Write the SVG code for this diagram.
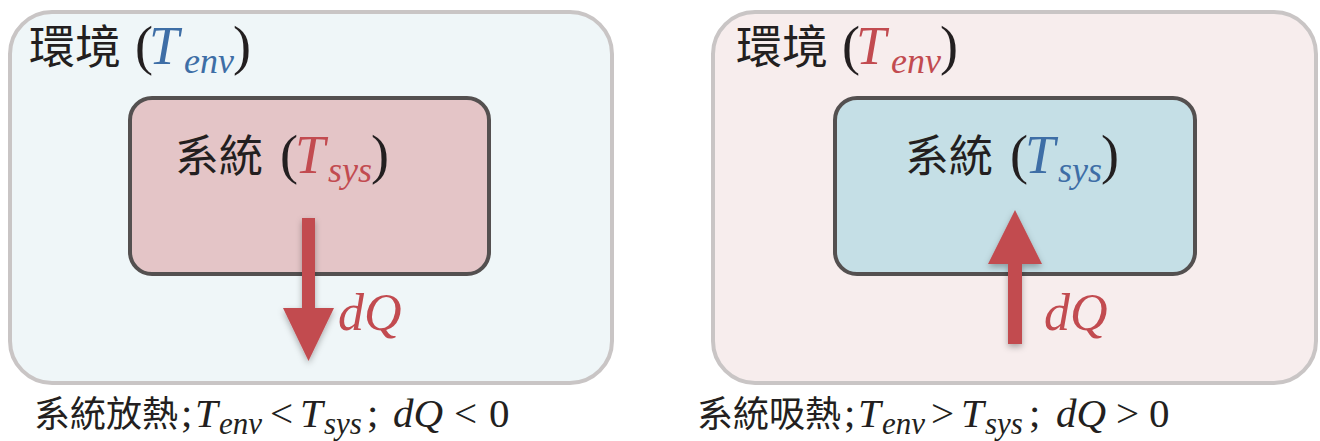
<svg xmlns="http://www.w3.org/2000/svg" width="1320" height="441" viewBox="0 0 1320 441">
<style>
.cjk{font-family:"Noto Sans CJK TC","Noto Sans CJK SC",sans-serif;fill:#231f20}
.lat{font-family:"Liberation Serif","Times New Roman",serif;fill:#231f20}
.it{font-style:italic}
.red{fill:#c24b50}
.blue{fill:#3e6ea6}
.outer{stroke:#c9c5c5;stroke-width:4}
.inner{stroke:#545050;stroke-width:4}
.arrow{fill:#c24b50}
</style>
<defs>
<filter id="sh" x="-50%" y="-20%" width="200%" height="150%">
<feDropShadow dx="0" dy="3" stdDeviation="3" flood-color="#000" flood-opacity="0.3"/>
</filter>
</defs>
<rect width="1320" height="441" fill="#ffffff"/>
<g id="env-left">
<rect class="outer" x="10" y="12" width="602" height="371" rx="42" fill="#eff6f8"/>
<text class="cjk" x="29" y="63" font-size="46">環境</text>
<text class="lat" font-size="54"><tspan x="135" y="64">(</tspan><tspan class="it blue" x="149" y="64">T</tspan><tspan class="it blue" x="184" y="73" font-size="36">env</tspan><tspan x="233" y="64">)</tspan></text>
</g>
<g id="sys-left">
<rect class="inner" x="130" y="98" width="359" height="176" rx="22" fill="#e4c5c7"/>
<text class="cjk" x="175" y="172" font-size="44">系統</text>
<text class="lat" font-size="54"><tspan x="280" y="173">(</tspan><tspan class="it red" x="295" y="173">T</tspan><tspan class="it red" x="328" y="182" font-size="36">sys</tspan><tspan x="371" y="173">)</tspan></text>
</g>
<g id="env-right">
<rect class="outer" x="713" y="12" width="603" height="371" rx="42" fill="#f7eded"/>
<text class="cjk" x="736" y="63" font-size="46">環境</text>
<text class="lat" font-size="54"><tspan x="842" y="64">(</tspan><tspan class="it red" x="856" y="64">T</tspan><tspan class="it red" x="891" y="73" font-size="36">env</tspan><tspan x="940" y="64">)</tspan></text>
</g>
<g id="sys-right">
<rect class="inner" x="835" y="98" width="360" height="176" rx="22" fill="#c5dfe6"/>
<text class="cjk" x="905" y="172" font-size="44">系統</text>
<text class="lat" font-size="54"><tspan x="1010" y="173">(</tspan><tspan class="it blue" x="1025" y="173">T</tspan><tspan class="it blue" x="1058" y="182" font-size="36">sys</tspan><tspan x="1101" y="173">)</tspan></text>
</g>
<g id="connectors">
<g filter="url(#sh)">
<rect class="arrow" x="302" y="218" width="13" height="92"/>
<polygon class="arrow" points="283,308 334,308 308.5,361"/>
</g>
<g filter="url(#sh)">
<rect class="arrow" x="1008" y="262" width="14" height="82"/>
<polygon class="arrow" points="988,264 1042,264 1015,210"/>
</g>
<text class="lat it red" x="338" y="330" font-size="52">dQ</text>
<text class="lat it red" x="1044" y="330" font-size="52">dQ</text>
</g>
<g id="caption-left">
<text class="cjk" x="34" y="427" font-size="36">系統放熱</text>
<text class="lat" font-size="41"><tspan x="181" y="427">;</tspan><tspan class="it" x="195" y="427">T</tspan><tspan class="it" x="219" y="434" font-size="31">env</tspan><tspan x="270" y="427">&lt;</tspan><tspan class="it" x="300" y="427">T</tspan><tspan class="it" x="324" y="434" font-size="31">sys</tspan><tspan x="367" y="427">;</tspan><tspan class="it" x="393" y="427">dQ</tspan><tspan x="454" y="427">&lt;</tspan><tspan x="489" y="427">0</tspan></text>
</g>
<g id="caption-right">
<text class="cjk" x="697" y="427" font-size="36">系統吸熱</text>
<text class="lat" font-size="41"><tspan x="844" y="427">;</tspan><tspan class="it" x="858" y="427">T</tspan><tspan class="it" x="882" y="434" font-size="31">env</tspan><tspan x="931" y="427">&gt;</tspan><tspan class="it" x="961" y="427">T</tspan><tspan class="it" x="985" y="434" font-size="31">sys</tspan><tspan x="1029" y="427">;</tspan><tspan class="it" x="1056" y="427">dQ</tspan><tspan x="1116" y="427">&gt;</tspan><tspan x="1149" y="427">0</tspan></text>
</g>
</svg>
